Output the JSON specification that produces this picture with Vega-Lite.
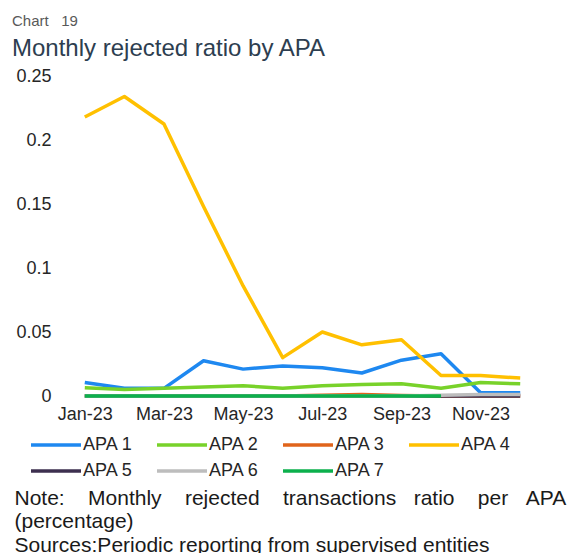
{
  "$schema": "https://vega.github.io/schema/vega-lite/v6.json",
  "autosize": "none",
  "width": 475,
  "height": 320,
  "padding": {"left": 65, "top": 76, "right": 32, "bottom": 157},
  "background": "white",
  "config": {
    "font": "Liberation Sans",
    "view": {"stroke": null}
  },
  "title": {
    "text": "Chart \u00a0\u00a019",
    "subtitle": "Monthly rejected ratio by APA",
    "anchor": "start",
    "frame": "group",
    "dx": -53,
    "offset": 6,
    "fontSize": 15,
    "fontWeight": "normal",
    "color": "#595959",
    "subtitleFontSize": 24,
    "subtitleColor": "#2D3E50",
    "subtitlePadding": 8
  },
  "data": {
    "values": [
      {"month": "Jan-23", "series": "APA 1", "value": 0.0105},
      {"month": "Feb-23", "series": "APA 1", "value": 0.006},
      {"month": "Mar-23", "series": "APA 1", "value": 0.006},
      {"month": "Apr-23", "series": "APA 1", "value": 0.0275},
      {"month": "May-23", "series": "APA 1", "value": 0.021},
      {"month": "Jun-23", "series": "APA 1", "value": 0.0235},
      {"month": "Jul-23", "series": "APA 1", "value": 0.022},
      {"month": "Aug-23", "series": "APA 1", "value": 0.018},
      {"month": "Sep-23", "series": "APA 1", "value": 0.028},
      {"month": "Oct-23", "series": "APA 1", "value": 0.033},
      {"month": "Nov-23", "series": "APA 1", "value": 0.0025},
      {"month": "Dec-23", "series": "APA 1", "value": 0.0025},
      {"month": "Jan-23", "series": "APA 2", "value": 0.0065},
      {"month": "Feb-23", "series": "APA 2", "value": 0.005},
      {"month": "Mar-23", "series": "APA 2", "value": 0.006},
      {"month": "Apr-23", "series": "APA 2", "value": 0.007},
      {"month": "May-23", "series": "APA 2", "value": 0.008},
      {"month": "Jun-23", "series": "APA 2", "value": 0.006},
      {"month": "Jul-23", "series": "APA 2", "value": 0.008},
      {"month": "Aug-23", "series": "APA 2", "value": 0.009},
      {"month": "Sep-23", "series": "APA 2", "value": 0.0095},
      {"month": "Oct-23", "series": "APA 2", "value": 0.006},
      {"month": "Nov-23", "series": "APA 2", "value": 0.0105},
      {"month": "Dec-23", "series": "APA 2", "value": 0.0095},
      {"month": "Jan-23", "series": "APA 3", "value": 0},
      {"month": "Feb-23", "series": "APA 3", "value": 0},
      {"month": "Mar-23", "series": "APA 3", "value": 0},
      {"month": "Apr-23", "series": "APA 3", "value": 0},
      {"month": "May-23", "series": "APA 3", "value": 0},
      {"month": "Jun-23", "series": "APA 3", "value": 0},
      {"month": "Jul-23", "series": "APA 3", "value": 0.0005},
      {"month": "Aug-23", "series": "APA 3", "value": 0.0012},
      {"month": "Sep-23", "series": "APA 3", "value": 0.0004},
      {"month": "Oct-23", "series": "APA 3", "value": 0},
      {"month": "Nov-23", "series": "APA 3", "value": 0},
      {"month": "Dec-23", "series": "APA 3", "value": 0},
      {"month": "Jan-23", "series": "APA 4", "value": 0.218},
      {"month": "Feb-23", "series": "APA 4", "value": 0.234},
      {"month": "Mar-23", "series": "APA 4", "value": 0.2125},
      {"month": "Apr-23", "series": "APA 4", "value": 0.148},
      {"month": "May-23", "series": "APA 4", "value": 0.086},
      {"month": "Jun-23", "series": "APA 4", "value": 0.03},
      {"month": "Jul-23", "series": "APA 4", "value": 0.05},
      {"month": "Aug-23", "series": "APA 4", "value": 0.04},
      {"month": "Sep-23", "series": "APA 4", "value": 0.044},
      {"month": "Oct-23", "series": "APA 4", "value": 0.016},
      {"month": "Nov-23", "series": "APA 4", "value": 0.016},
      {"month": "Dec-23", "series": "APA 4", "value": 0.014},
      {"month": "Jan-23", "series": "APA 5", "value": 0},
      {"month": "Feb-23", "series": "APA 5", "value": 0},
      {"month": "Mar-23", "series": "APA 5", "value": 0},
      {"month": "Apr-23", "series": "APA 5", "value": 0},
      {"month": "May-23", "series": "APA 5", "value": 0},
      {"month": "Jun-23", "series": "APA 5", "value": 0},
      {"month": "Jul-23", "series": "APA 5", "value": 0},
      {"month": "Aug-23", "series": "APA 5", "value": 0},
      {"month": "Sep-23", "series": "APA 5", "value": 0},
      {"month": "Oct-23", "series": "APA 5", "value": 0},
      {"month": "Nov-23", "series": "APA 5", "value": 0},
      {"month": "Dec-23", "series": "APA 5", "value": 0},
      {"month": "Jan-23", "series": "APA 6", "value": 0},
      {"month": "Feb-23", "series": "APA 6", "value": 0},
      {"month": "Mar-23", "series": "APA 6", "value": 0},
      {"month": "Apr-23", "series": "APA 6", "value": 0},
      {"month": "May-23", "series": "APA 6", "value": 0},
      {"month": "Jun-23", "series": "APA 6", "value": 0},
      {"month": "Jul-23", "series": "APA 6", "value": 0},
      {"month": "Aug-23", "series": "APA 6", "value": 0},
      {"month": "Sep-23", "series": "APA 6", "value": 0},
      {"month": "Oct-23", "series": "APA 6", "value": 0.0005},
      {"month": "Nov-23", "series": "APA 6", "value": 0.0012},
      {"month": "Dec-23", "series": "APA 6", "value": 0.0012},
      {"month": "Jan-23", "series": "APA 7", "value": 0},
      {"month": "Feb-23", "series": "APA 7", "value": 0},
      {"month": "Mar-23", "series": "APA 7", "value": 0},
      {"month": "Apr-23", "series": "APA 7", "value": 0},
      {"month": "May-23", "series": "APA 7", "value": 0},
      {"month": "Jun-23", "series": "APA 7", "value": 0},
      {"month": "Jul-23", "series": "APA 7", "value": 0},
      {"month": "Aug-23", "series": "APA 7", "value": 0},
      {"month": "Sep-23", "series": "APA 7", "value": 0},
      {"month": "Oct-23", "series": "APA 7", "value": 0}
    ]
  },
  "mark": {"type": "line", "strokeWidth": 3.5, "strokeJoin": "round", "strokeCap": "butt"},
  "encoding": {
    "x": {
      "field": "month",
      "type": "ordinal",
      "sort": ["Jan-23","Feb-23","Mar-23","Apr-23","May-23","Jun-23","Jul-23","Aug-23","Sep-23","Oct-23","Nov-23","Dec-23"],
      "scale": {"type": "point", "padding": 0.5, "domain": ["Jan-23","Feb-23","Mar-23","Apr-23","May-23","Jun-23","Jul-23","Aug-23","Sep-23","Oct-23","Nov-23","Dec-23"]},
      "axis": {
        "values": ["Jan-23","Mar-23","May-23","Jul-23","Sep-23","Nov-23"],
        "labelAngle": 0,
        "labelOverlap": false,
        "labelFontSize": 18,
        "labelColor": "#262626",
        "labelPadding": 9,
        "labelBaseline": "top",
        "ticks": false,
        "tickSize": 0,
        "domain": false,
        "grid": false,
        "title": [
          "Note: \u00a0\u00a0\u00a0Monthly \u00a0\u00a0\u00a0rejected \u00a0\u00a0\u00a0transactions \u00a0\u00a0ratio \u00a0\u00a0\u00a0per \u00a0\u00a0APA",
          "(percentage)",
          "Sources:Periodic reporting from supervised entities"
        ],
        "titleFontSize": 21,
        "titleFontWeight": "normal",
        "titleColor": "#1A1A1A",
        "titleAnchor": "start",
        "titleAlign": "left",
        "titleBaseline": "top",
        "titleLineHeight": 23.5,
        "titleX": -51,
        "titleY": 91
      }
    },
    "y": {
      "field": "value",
      "type": "quantitative",
      "scale": {"domain": [0, 0.25], "nice": false, "zero": true},
      "axis": {
        "values": [0, 0.05, 0.1, 0.15, 0.2, 0.25],
        "format": "~g",
        "labelFontSize": 18,
        "labelColor": "#262626",
        "labelPadding": 14,
        "ticks": false,
        "tickSize": 0,
        "domain": false,
        "grid": false,
        "title": null
      }
    },
    "color": {
      "field": "series",
      "type": "nominal",
      "scale": {
        "domain": ["APA 1","APA 2","APA 3","APA 4","APA 5","APA 6","APA 7"],
        "range": ["#1E88F0","#78D22A","#E0641B","#FFC000","#3D2F4F","#BDBDBD","#0CB04C"]
      },
      "legend": {
        "title": null,
        "orient": "none",
        "legendX": -18,
        "legendY": 360,
        "direction": "horizontal",
        "columns": 4,
        "padding": 0,
        "symbolType": "M-5,0H5",
        "symbolSize": 100,
        "symbolStrokeWidth": 3.5,
        "labelOffset": 18,
        "labelFontSize": 18,
        "labelColor": "#262626",
        "columnPadding": 17,
        "rowPadding": 8
      }
    }
  }
}
